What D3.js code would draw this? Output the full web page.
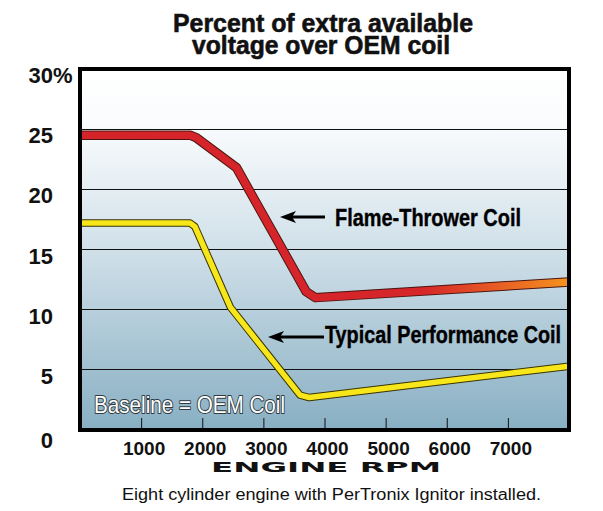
<!DOCTYPE html>
<html>
<head>
<meta charset="utf-8">
<script src="https://cdn.jsdelivr.net/npm/d3@7"></script>
<style>
  html, body { margin: 0; padding: 0; background: #ffffff; }
  svg { display: block; }
</style>
</head>
<body>
<svg id="chart" width="603" height="511"></svg>
<script>
// ---- data ----
const titleLines = ["Percent of extra available", "voltage over OEM coil"];
const rpmTicks = [1000, 2000, 3000, 4000, 5000, 6000, 7000];
const pctTicks = [0, 5, 10, 15, 20, 25, 30];
const flameRpm = [0, 1800, 1900, 2560, 3700, 3850, 8000];
const flamePct = [24.5, 24.5, 24.3, 21.8, 11.5, 11.0, 12.3];
const typicalRpm = [0, 1800, 1880, 2460, 3600, 3750, 8000];
const typicalPct = [17.2, 17.2, 16.9, 10.2, 2.9, 2.7, 5.3];
const flameLabel = "Flame-Thrower Coil";
const typicalLabel = "Typical Performance Coil";
const baselineLabel = "Baseline = OEM Coil";
const xAxisTitle = "ENGINE RPM";
const caption = "Eight cylinder engine with PerTronix Ignitor installed.";

const svg = d3.select("#chart");
const L = 80, R = 569, T = 69, B = 430;
const x = d3.scaleLinear().domain([0, 8000]).range([L, R]);
const y = d3.scaleLinear().domain([0, 30]).range([B, T]);

const defs = svg.append("defs");
const bg = defs.append("linearGradient").attr("id", "bg")
  .attr("x1", 0).attr("y1", 0).attr("x2", 0).attr("y2", 1);
[[0, "#ffffff"], [0.15, "#fafcfd"], [0.5, "#d0e0e9"], [1, "#88afc3"]].forEach(([o, c]) =>
  bg.append("stop").attr("offset", o).attr("stop-color", c));

const rg = defs.append("linearGradient").attr("id", "redgrad")
  .attr("gradientUnits", "userSpaceOnUse")
  .attr("x1", L).attr("y1", 0).attr("x2", R).attr("y2", 0);
[[0, "#d5232a"], [0.7, "#d6262a"], [1, "#f6921e"]].forEach(([o, c]) =>
  rg.append("stop").attr("offset", o).attr("stop-color", c));

// Title (one text element, two lines)
const title = svg.append("text")
  .attr("font-family", "Liberation Sans, Arial, sans-serif")
  .attr("font-weight", "bold")
  .attr("font-size", 26)
  .attr("fill", "#111").attr("stroke", "#111").attr("stroke-width", 0.6);
title.selectAll("tspan").data(titleLines).join("tspan")
  .attr("x", (d, i) => i === 0 ? 173 : 192)
  .attr("y", (d, i) => i === 0 ? 32 : 53.5)
  .attr("textLength", (d, i) => i === 0 ? 300 : 258)
  .attr("lengthAdjust", "spacingAndGlyphs")
  .text(d => d);

// Plot background
svg.append("rect").attr("x", L).attr("y", T).attr("width", R - L).attr("height", B - T)
  .attr("fill", "url(#bg)");

// Grid lines
svg.append("g").selectAll("line").data(pctTicks.filter(d => d > 0 && d < 30)).join("line")
  .attr("x1", L).attr("x2", R)
  .attr("y1", d => y(d)).attr("y2", d => y(d))
  .attr("stroke", "#111").attr("stroke-width", 1).attr("shape-rendering", "crispEdges");

// X ticks inside plot (via d3 axis)
const xAxis = d3.axisBottom(x).tickValues(rpmTicks).tickSize(-12).tickFormat("");
const xg = svg.append("g").attr("transform", `translate(0,${B})`).call(xAxis);
xg.select(".domain").remove();
xg.selectAll(".tick line").attr("stroke", "#111").attr("stroke-width", 1);

// Baseline label
svg.append("text")
  .attr("x", 94).attr("y", 413)
  .attr("textLength", 191).attr("lengthAdjust", "spacingAndGlyphs")
  .attr("font-family", "Liberation Sans, Arial, sans-serif")
  .attr("font-size", 24)
  .attr("paint-order", "stroke")
  .attr("fill", "#ffffff").attr("stroke", "#2f3a40").attr("stroke-width", 2)
  .attr("stroke-linejoin", "round")
  .text(baselineLabel);

// Lines
const line = d3.line().x(d => x(d[0])).y(d => y(d[1]));
const flame = flameRpm.map((r, i) => [r, flamePct[i]]);
const typical = typicalRpm.map((r, i) => [r, typicalPct[i]]);

function drawLine(data, outer, inner, outerColor, innerColor) {
  svg.append("path").datum(data).attr("d", line)
    .attr("fill", "none").attr("stroke", outerColor).attr("stroke-width", outer)
    .attr("stroke-linejoin", "round");
  svg.append("path").datum(data).attr("d", line)
    .attr("fill", "none").attr("stroke", innerColor).attr("stroke-width", inner)
    .attr("stroke-linejoin", "round");
}
drawLine(typical, 7.5, 5.5, "#3a3300", "#f6e61a");
drawLine(flame, 9.5, 7.5, "#4a1510", "url(#redgrad)");

// Plot frame
svg.append("rect").attr("x", L).attr("y", T).attr("width", R - L).attr("height", B - T)
  .attr("fill", "none").attr("stroke", "#000").attr("stroke-width", 4);

// Annotation arrows + labels
function arrow(x1, x2, yy) {
  svg.append("line").attr("x1", x1 + 10).attr("x2", x2).attr("y1", yy).attr("y2", yy)
    .attr("stroke", "#000").attr("stroke-width", 3);
  svg.append("path")
    .attr("d", `M${x1},${yy} L${x1 + 16},${yy - 6} L${x1 + 12},${yy} L${x1 + 16},${yy + 6} Z`)
    .attr("fill", "#000");
}
arrow(280, 325, 217);
arrow(268, 324, 337);

svg.append("text").attr("x", 335).attr("y", 226)
  .attr("textLength", 186).attr("lengthAdjust", "spacingAndGlyphs")
  .attr("font-family", "Liberation Sans, Arial, sans-serif").attr("font-weight", "bold")
  .attr("font-size", 24).attr("fill", "#000").attr("stroke", "#000").attr("stroke-width", 0.4)
  .text(flameLabel);
svg.append("text").attr("x", 325).attr("y", 343)
  .attr("textLength", 236).attr("lengthAdjust", "spacingAndGlyphs")
  .attr("font-family", "Liberation Sans, Arial, sans-serif").attr("font-weight", "bold")
  .attr("font-size", 24).attr("fill", "#000").attr("stroke", "#000").attr("stroke-width", 0.4)
  .text(typicalLabel);

// Y tick labels
const yl = svg.append("g").attr("font-family", "Liberation Sans, Arial, sans-serif")
  .attr("font-weight", "bold").attr("font-size", 22).attr("fill", "#111");
yl.selectAll("text.yt").data(pctTicks).join("text").attr("class", "yt")
  .attr("x", 53)
  .attr("y", d => y(d) + (d === 0 ? 18 : 14))
  .attr("text-anchor", "end")
  .text(d => d);
yl.append("text").attr("x", 53).attr("y", y(30) + 14).text("%");

// X tick labels
svg.append("g").selectAll("text").data(rpmTicks).join("text")
  .attr("x", d => x(d) + 3).attr("y", 455)
  .attr("text-anchor", "middle")
  .attr("font-family", "Liberation Sans, Arial, sans-serif").attr("font-weight", "bold")
  .attr("font-size", 19).attr("fill", "#111")
  .text(d => d);

// X axis title
svg.append("text").attr("x", 211).attr("y", 472)
  .attr("textLength", 230).attr("lengthAdjust", "spacingAndGlyphs")
  .attr("font-family", "DejaVu Sans, sans-serif").attr("font-weight", "bold")
  .attr("font-size", 14.5).attr("fill", "#111").text(xAxisTitle);

// Caption
svg.append("text").attr("x", 122).attr("y", 500)
  .attr("textLength", 419).attr("lengthAdjust", "spacingAndGlyphs")
  .attr("font-family", "Liberation Sans, Arial, sans-serif")
  .attr("font-size", 16).attr("fill", "#111").text(caption);
</script>
</body>
</html>
